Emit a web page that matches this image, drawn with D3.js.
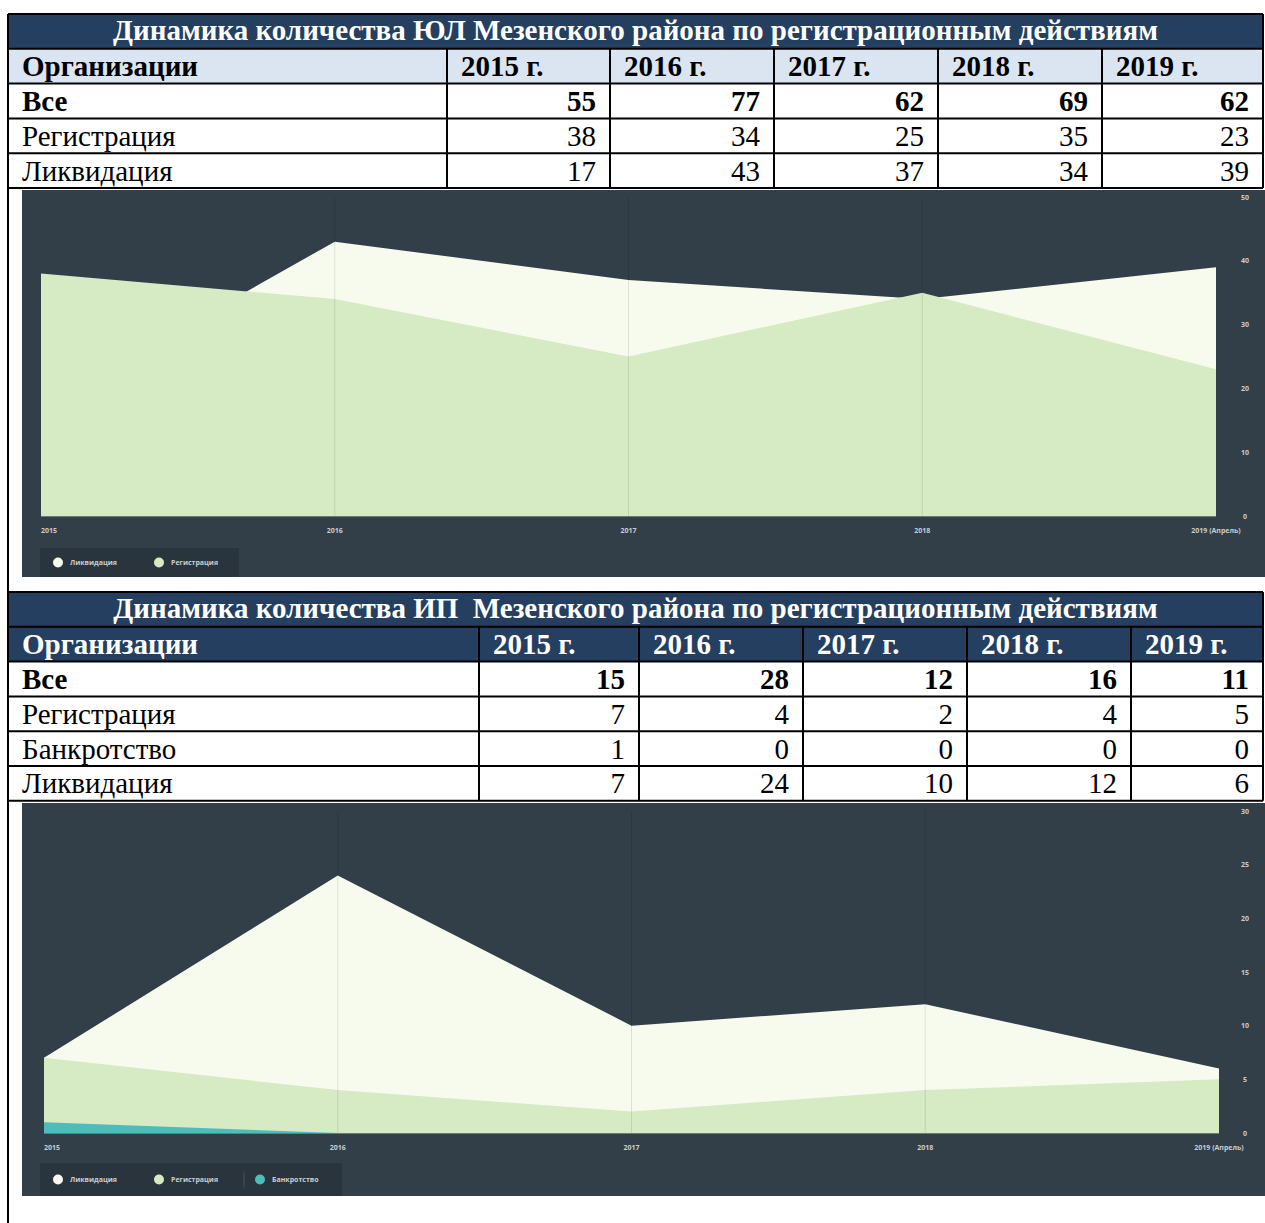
<!DOCTYPE html>
<html>
<head>
<meta charset="utf-8">
<script src="https://cdn.jsdelivr.net/npm/d3@7"></script>
<style>
  body { margin: 0; background: #fff; }
  svg { display: block; }
  text { white-space: pre; }
</style>
</head>
<body>
<svg id="page" width="1265" height="1223"></svg>
<script>
// table data
const tableYears = ['2015 г.', '2016 г.', '2017 г.', '2018 г.', '2019 г.'];
const ulAll = [55, 77, 62, 69, 62];
const ulReg = [38, 34, 25, 35, 23];
const ulLiq = [17, 43, 37, 34, 39];
const ipAll = [15, 28, 12, 16, 11];
const ipReg = [7, 4, 2, 4, 5];
const ipBank = [1, 0, 0, 0, 0];
const ipLiq = [7, 24, 10, 12, 6];

// chart data
const chartYears = ['2015', '2016', '2017', '2018', '2019 (Апрель)'];
const ulTicks = [0, 10, 20, 30, 40, 50];
const ipTicks = [0, 5, 10, 15, 20, 25, 30];

const svg = d3.select('#page');
const serif = '"Liberation Serif", "Times New Roman", serif';
const navy = '#243f60';
const fs = 29;

// left frame line
svg.append('line')
  .attr('x1', 8).attr('x2', 8).attr('y1', 14).attr('y2', 1223)
  .attr('stroke', '#000').attr('stroke-width', 2);

function drawTable(top, cols, title, headerDark, rows) {
  const g = svg.append('g');
  const rowH = 34.8;
  const left = cols[0], right = cols[cols.length - 1];
  const base = rowH / 2 + 10;

  // title row
  g.append('rect').attr('x', left).attr('y', top).attr('width', right - left).attr('height', rowH)
    .attr('fill', navy);
  g.append('text').attr('x', (left + right) / 2).attr('y', top + base - 1)
    .attr('text-anchor', 'middle').attr('font-family', serif).attr('font-weight', 'bold')
    .attr('font-size', fs).attr('fill', '#fff').text(title);

  // header row
  const hy = top + rowH;
  g.append('rect').attr('x', left).attr('y', hy).attr('width', right - left).attr('height', rowH)
    .attr('fill', headerDark ? navy : '#dbe5f1');
  const headTexts = ['Организации'].concat(tableYears);
  g.selectAll('.hd').data(headTexts).join('text')
    .attr('x', (d, i) => cols[i] + 14).attr('y', hy + base)
    .attr('font-family', serif).attr('font-weight', 'bold').attr('font-size', fs)
    .attr('fill', headerDark ? '#fff' : '#000').text(d => d);

  // body rows
  rows.forEach((r, ri) => {
    const y = top + rowH * (ri + 2);
    g.append('text').attr('x', left + 14).attr('y', y + base)
      .attr('font-family', serif).attr('font-weight', r.bold ? 'bold' : 'normal')
      .attr('font-size', fs).text(r.name);
    g.selectAll(null).data(r.values).join('text')
      .attr('x', (d, i) => cols[i + 2] - 14).attr('y', y + base)
      .attr('text-anchor', 'end').attr('font-family', serif)
      .attr('font-weight', r.bold ? 'bold' : 'normal').attr('font-size', fs).text(d => d);
  });

  // grid lines
  const nRows = rows.length + 2;
  const bottom = top + rowH * nRows;
  for (let i = 0; i <= nRows; i++) {
    g.append('line').attr('x1', left).attr('x2', right)
      .attr('y1', top + rowH * i).attr('y2', top + rowH * i)
      .attr('stroke', '#000').attr('stroke-width', 2);
  }
  [left, right].forEach(x => g.append('line').attr('x1', x).attr('x2', x)
    .attr('y1', top).attr('y2', bottom).attr('stroke', '#000').attr('stroke-width', 2));
  cols.slice(1, -1).forEach(x => g.append('line').attr('x1', x).attr('x2', x)
    .attr('y1', top + rowH).attr('y2', bottom).attr('stroke', '#000').attr('stroke-width', 2));
}

drawTable(14, [8, 447, 610, 774, 938, 1102, 1263],
  'Динамика количества ЮЛ Мезенского района по регистрационным действиям', false, [
    { name: 'Все', values: ulAll, bold: true },
    { name: 'Регистрация', values: ulReg },
    { name: 'Ликвидация', values: ulLiq }
  ]);

drawTable(592, [8, 479, 639, 803, 967, 1131, 1263],
  'Динамика количества ИП  Мезенского района по регистрационным действиям', true, [
    { name: 'Все', values: ipAll, bold: true },
    { name: 'Регистрация', values: ipReg },
    { name: 'Банкротство', values: ipBank },
    { name: 'Ликвидация', values: ipLiq }
  ]);

function drawChart(opt) {
  const g = svg.append('g');
  g.append('rect').attr('x', 22).attr('y', opt.top).attr('width', 1265 - 22)
    .attr('height', opt.bottom - opt.top).attr('fill', '#323e48');

  const x = d3.scalePoint().domain(chartYears).range(opt.xRange);
  const y = d3.scaleLinear().domain([0, opt.max]).range(opt.yRange);

  opt.series.forEach(s => {
    const area = d3.area()
      .x((d, i) => x(chartYears[i]))
      .y0(y(0))
      .y1(d => y(d));
    g.append('path').datum(s.values).attr('d', area).attr('fill', s.color);
  });

  // vertical grid lines
  g.selectAll('.vg').data(chartYears.slice(1, -1)).join('line')
    .attr('x1', d => x(d)).attr('x2', d => x(d))
    .attr('y1', opt.yRange[1]).attr('y2', y(0))
    .attr('stroke', '#000').attr('stroke-opacity', 0.1);
  g.append('line').attr('x1', opt.xRange[0]).attr('x2', opt.xRange[1])
    .attr('y1', y(0) + 0.5).attr('y2', y(0) + 0.5)
    .attr('stroke', '#fff').attr('stroke-opacity', 0.3);

  // y axis labels (right)
  g.selectAll('.yt').data(opt.ticks).join('text')
    .attr('x', 1245).attr('y', d => y(d) + 2.5)
    .attr('text-anchor', 'middle').attr('font-family', 'Open Sans').attr('font-size', 7)
    .attr('font-weight', 'bold').attr('fill', '#c9cdd1').text(d => d);

  // x axis labels
  g.selectAll('.xt').data(chartYears).join('text')
    .attr('x', d => x(d)).attr('y', y(0) + 17)
    .attr('text-anchor', (d, i) => i === 0 ? 'start' : 'middle')
    .attr('font-family', 'Open Sans').attr('font-size', 7).attr('font-weight', 'bold')
    .attr('fill', '#c9cdd1').text(d => d);

  // legend
  const lg = g.append('g');
  lg.append('rect').attr('x', 40).attr('y', opt.legendTop).attr('width', opt.legendW)
    .attr('height', opt.bottom - opt.legendTop).attr('fill', '#2a343d');
  const cy = opt.legendTop + (opt.bottom - opt.legendTop) / 2;
  opt.legend.forEach((s, i) => {
    const lx = 58 + i * 101;
    if (i === 2) {
      lg.append('line').attr('x1', lx - 16).attr('x2', lx - 16).attr('y1', cy - 8).attr('y2', cy + 8)
        .attr('stroke', '#48535c');
    }
    lg.append('circle').attr('cx', lx).attr('cy', cy).attr('r', 5).attr('fill', s.color);
    lg.append('text').attr('x', lx + 12).attr('y', cy + 2.5)
      .attr('font-family', 'Open Sans').attr('font-size', 7).attr('font-weight', 'bold')
      .attr('fill', '#c9cdd1').text(s.name);
  });
}

const liqColor = '#f6fbee';
const regColor = '#d6eac3';
const bankColor = '#4fbcbc';

drawChart({
  top: 190, bottom: 577, xRange: [41, 1216], yRange: [516, 197], max: 50, ticks: ulTicks,
  series: [
    { name: 'Ликвидация', values: ulLiq, color: liqColor },
    { name: 'Регистрация', values: ulReg, color: regColor }
  ],
  legend: [
    { name: 'Ликвидация', color: liqColor },
    { name: 'Регистрация', color: regColor }
  ],
  legendTop: 548, legendW: 199
});

drawChart({
  top: 803, bottom: 1196, xRange: [44, 1219], yRange: [1133, 811], max: 30, ticks: ipTicks,
  series: [
    { name: 'Ликвидация', values: ipLiq, color: liqColor },
    { name: 'Регистрация', values: ipReg, color: regColor },
    { name: 'Банкротство', values: ipBank, color: bankColor }
  ],
  legend: [
    { name: 'Ликвидация', color: liqColor },
    { name: 'Регистрация', color: regColor },
    { name: 'Банкротство', color: bankColor }
  ],
  legendTop: 1163, legendW: 302
});
</script>
</body>
</html>
